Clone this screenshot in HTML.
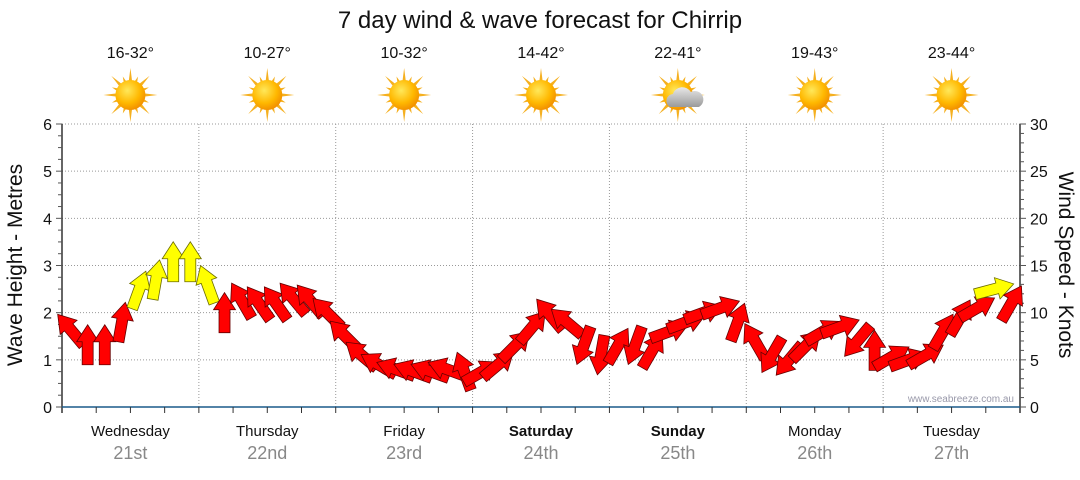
<!DOCTYPE html>
<html><head><meta charset="utf-8"><style>
body{margin:0;background:#fff;width:1080px;height:475px;overflow:hidden;font-family:"Liberation Sans",sans-serif}
</style></head><body>
<svg id="c" width="1080" height="475" xmlns="http://www.w3.org/2000/svg">
<defs>
<radialGradient id="sg" cx="40%" cy="35%" r="70%"><stop offset="0" stop-color="#ffe85a"/><stop offset="0.6" stop-color="#ffb800"/><stop offset="1" stop-color="#f08a00"/></radialGradient>
<linearGradient id="cg" x1="0" y1="0" x2="0" y2="1"><stop offset="0" stop-color="#e8e8e8"/><stop offset="1" stop-color="#9a9a9a"/></linearGradient>
</defs>
</svg>
<script>
const days=["Wednesday","Thursday","Friday","Saturday","Sunday","Monday","Tuesday"];
const dates=["21st","22nd","23rd","24th","25th","26th","27th"];
const temps=["16-32°","10-27°","10-32°","14-42°","22-41°","19-43°","23-44°"];
const cloudy=[false,false,false,false,true,false,false];
const waveTicks=[0,1,2,3,4,5,6];
const windTicks=[0,5,10,15,20,25,30];
// wind every 3 hours starting Wed 00:00 (approx from picture)
const windSpeed=[8.2,6.6,6.6,9,12.4,13.5,15.4,15.4,13,10,
11.3,11,11,11.5,11.3,10,7.6,5.5,4.5,4,
3.8,3.8,4,3.8,3.7,4.5,6.5,8.5,9.8,9,
6.5,5.5,6.5,6.5,6,8,9,10,10.5,9,
7,5.5,5,6.5,8,8.5,7,6,5.3,5,
5.5,8,9.5,10.5,12.5,11];
const windDir=[-40,0,0,10,20,10,0,0,-20,0,
-30,-35,-35,-40,-40,-45,-45,-50,-60,-70,
-70,-70,-70,-20,60,50,45,40,-40,-50,
200,190,30,200,30,70,70,70,70,20,
-30,210,220,45,60,70,220,0,60,70,
60,30,30,60,75,30];
const svg=document.getElementById('c');const NS='http://www.w3.org/2000/svg';
const X0=62,X1=1020,Y0=407,Y1=124;
const dayW=(X1-X0)/7;
const yWave=v=>Y0-(v/6)*(Y0-Y1);
const yWind=v=>Y0-(v/30)*(Y0-Y1);
const xHour=h=>X0+h/168*(X1-X0);
function mk(t,a,p){const e=document.createElementNS(NS,t);for(const k in a)e.setAttribute(k,a[k]);(p||svg).appendChild(e);return e;}
function txt(x,y,s,a){const e=mk('text',Object.assign({x:x,y:y},a));e.textContent=s;return e;}
const t=txt(540,28,"7 day wind & wave forecast for Chirrip",{'text-anchor':'middle','font-size':'24','fill':'#111'});

for(let i=1;i<waveTicks.length;i++){const y=yWave(waveTicks[i]);const g=mk('line',{x1:X0,x2:X1,y1:y,y2:y,stroke:'#999','stroke-dasharray':'1,2'});}
for(let d=1;d<7;d++){const x=X0+d*dayW;const g=mk('line',{x1:x,x2:x,y1:Y1,y2:Y0,stroke:'#999','stroke-dasharray':'1,2'});}
mk('line',{x1:X0,x2:X0,y1:Y1,y2:Y0+6,stroke:'#333','stroke-width':1.5});
mk('line',{x1:X1,x2:X1,y1:Y1,y2:Y0+6,stroke:'#333','stroke-width':1.5});
const bx=mk('line',{x1:X0,x2:X1,y1:Y0,y2:Y0,stroke:'#1a5a8a','stroke-width':1.5});
for(let v=0;v<=6;v+=0.25){const y=yWave(v);mk('line',{x1:X0-(v%1===0?6:4),x2:X0,y1:y,y2:y,stroke:'#555'});}
for(let v=0;v<=30;v+=1){const y=yWind(v);mk('line',{x1:X1,x2:X1+(v%5===0?6:4),y1:y,y2:y,stroke:'#555'});}
for(let h=6;h<168;h+=6){const x=xHour(h);mk('line',{x1:x,x2:x,y1:Y0,y2:Y0+6,stroke:'#333'});}
waveTicks.forEach(v=>{const e=txt(X0-10,yWave(v)+6,String(v),{'text-anchor':'end','font-size':'16','fill':'#111'});});
windTicks.forEach(v=>{const e=txt(X1+10,yWind(v)+6,String(v),{'font-size':'16','fill':'#111'});});
let lt=txt(0,0,"Wave Height - Metres",{'text-anchor':'middle','font-size':'21','fill':'#111',transform:'translate(22,265) rotate(-90)'});

let rt=txt(0,0,"Wind Speed - Knots",{'text-anchor':'middle','font-size':'21','fill':'#111',transform:'translate(1059,265) rotate(90)'});

let wm=txt(1014,402,"www.seabreeze.com.au",{'text-anchor':'end','font-size':'10','fill':'#99a'});

days.forEach((d,i)=>{const cx=X0+(i+0.5)*dayW;
 const we=(i===3||i===4);
 const a=txt(cx,436,d,{'text-anchor':'middle','font-size':'15','fill':'#111','font-weight':we?'bold':'normal'});
 const b=txt(cx,459,dates[i],{'text-anchor':'middle','font-size':'18','fill':'#888'});
 const c=txt(cx,58,temps[i],{'text-anchor':'middle','font-size':'16','fill':'#111'});
 const g=mk('g',{transform:`translate(${cx},95)`});
 for(let k=0;k<16;k++){const ang=k*Math.PI/8;const L=k%2?20:27;const w=0.16;
  mk('polygon',{points:`${Math.cos(ang-w)*12},${Math.sin(ang-w)*12} ${Math.cos(ang)*L},${Math.sin(ang)*L} ${Math.cos(ang+w)*12},${Math.sin(ang+w)*12}`,fill:'#f5b020'},g);}
 mk('circle',{r:15,fill:'url(#sg)'},g);
 if(cloudy[i]){mk('path',{d:'M-8,12 a7,7 0 0 1 3,-13 a10,10 0 0 1 18,-2 a8,8 0 0 1 8,15 z',fill:'url(#cg)'},g);}
});
windSpeed.forEach((s,i)=>{const x=xHour(i*3+1.5);const y=yWind(s);
 const yellow=s>=12;
 const g=mk('g',{transform:`translate(${x},${y}) rotate(${windDir[i]})`});
 
 
 mk('polygon',{points:'-5.5,20 -5.5,-3 -11,-3 0,-20 11,-3 5.5,-3 5.5,20',fill:yellow?'#ffff00':'#ff0000',stroke:yellow?'#6b6b00':'#600','stroke-width':0.8},g);
});
</script>
</body></html>
